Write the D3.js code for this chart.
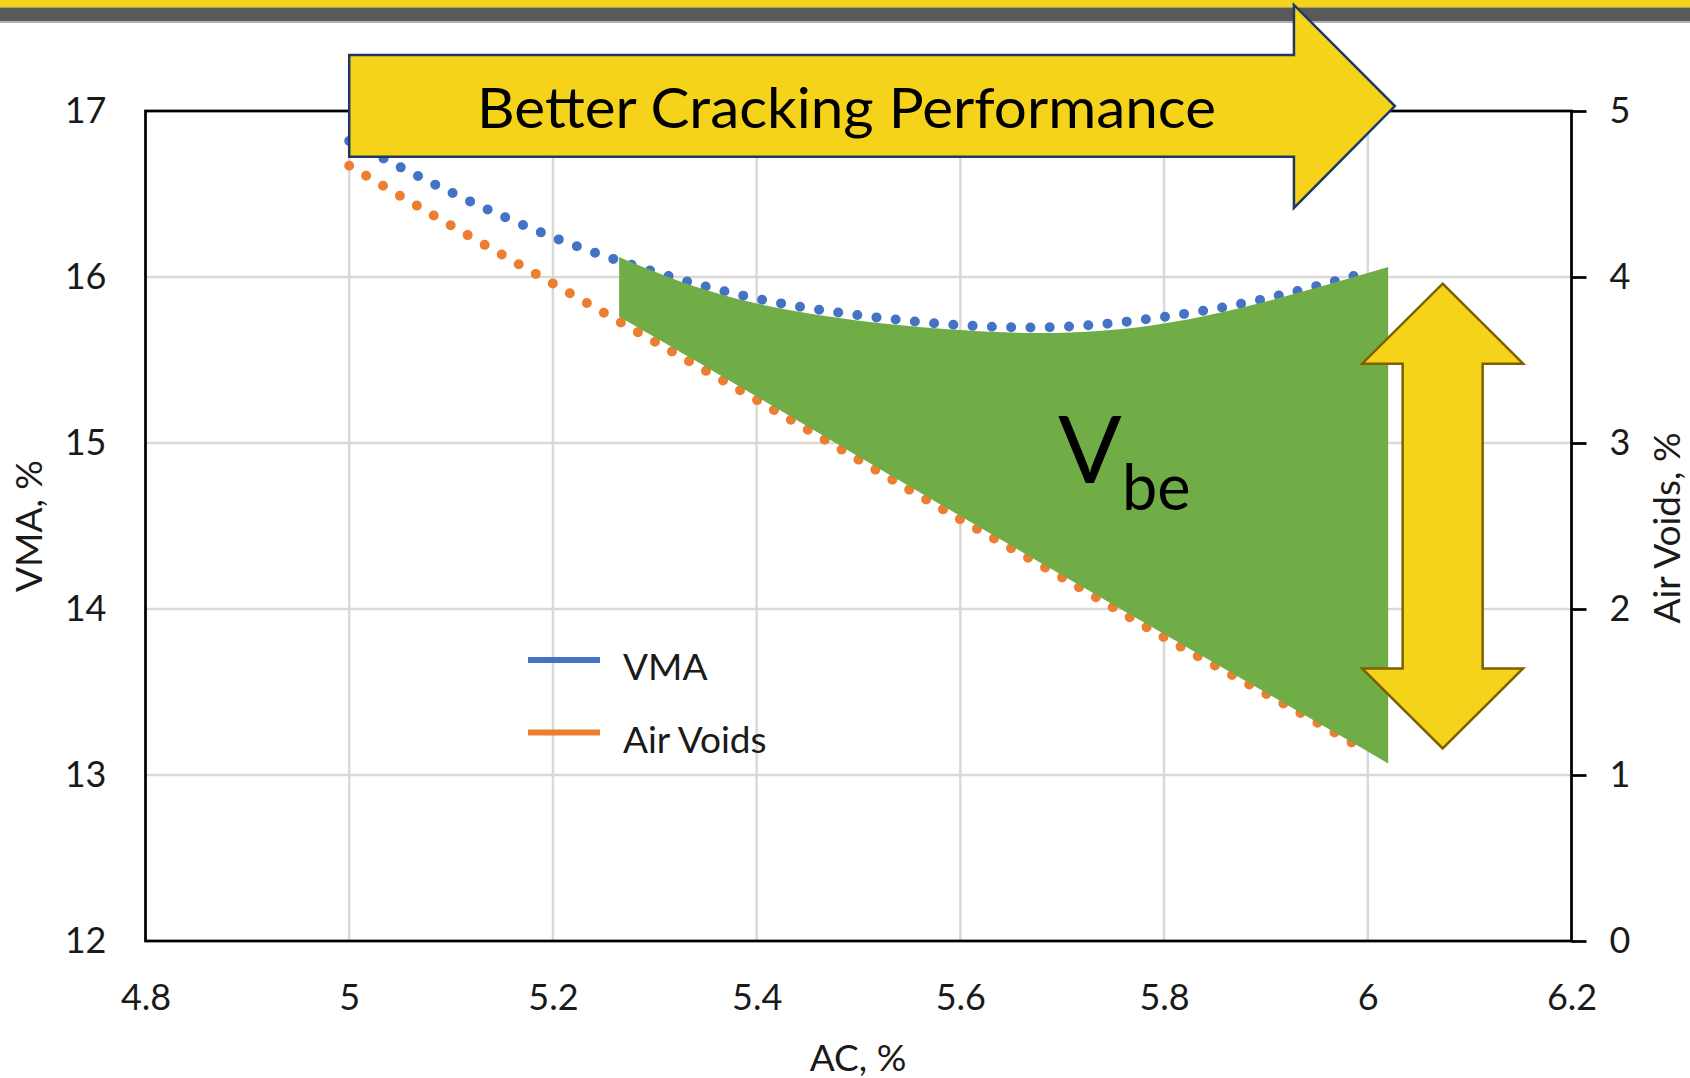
<!doctype html>
<html>
<head>
<meta charset="utf-8">
<title>VMA and Air Voids vs AC</title>
<script src="https://d3js.org/d3.v7.min.js"></script>
<style>
 body { margin: 0; background: #fff; }
 text { font-family: Lato, "Open Sans", sans-serif; }
</style>
</head>
<body>
<script>
// data
var acPct = [5.0, 5.1, 5.2, 5.3, 5.4, 5.5, 5.6, 5.7, 5.8, 5.9, 6.0];
var vma = [16.82, 16.51, 16.24, 16.03, 15.87, 15.77, 15.71, 15.70, 15.76, 15.87, 16.03];
var airVoids = [4.67, 4.31, 3.96, 3.61, 3.26, 2.90, 2.54, 2.19, 1.83, 1.49, 1.14];

var xTicks = [4.8, 5, 5.2, 5.4, 5.6, 5.8, 6, 6.2];
var xTickLabels = ["4.8", "5", "5.2", "5.4", "5.6", "5.8", "6", "6.2"];
var yLeftTicks = [12, 13, 14, 15, 16, 17];
var yRightTicks = [0, 1, 2, 3, 4, 5];

// green Vbe band (top edge in VMA %, bottom edge in air voids %)
var vbeAC = [5.265, 5.4, 5.6, 5.8, 6.02];
var vbeTop = [16.12, 15.84, 15.68, 15.72, 16.06];
var vbeBottom = [3.76, 3.28, 2.56, 1.85, 1.07];

var W = 1690, H = 1078;
var plotL = 145.5, plotR = 1571.5, plotT = 111, plotB = 941;

var svg = d3.select("body").append("svg")
    .attr("width", W)
    .attr("height", H);

var x = d3.scaleLinear().domain([4.8, 6.2]).range([plotL, plotR]);
var yL = d3.scaleLinear().domain([12, 17]).range([plotB, plotT]);
var yR = d3.scaleLinear().domain([0, 5]).range([plotB, plotT]);

// top band
svg.append("rect").attr("x", 0).attr("y", 0).attr("width", W).attr("height", 7.5).attr("fill", "#F5D31A");
svg.append("rect").attr("x", 0).attr("y", 7.5).attr("width", W).attr("height", 13.5).attr("fill", "#595959");
svg.append("rect").attr("x", 0).attr("y", 21).attr("width", W).attr("height", 2).attr("fill", "#b0b0b0");

// gridlines
svg.append("g").selectAll("line")
    .data(xTicks.slice(1, -1))
    .enter().append("line")
    .attr("x1", function(d) { return x(d); })
    .attr("x2", function(d) { return x(d); })
    .attr("y1", plotT).attr("y2", plotB)
    .attr("stroke", "#d9d9d9").attr("stroke-width", 2.5);

svg.append("g").selectAll("line")
    .data(yLeftTicks.slice(1, -1))
    .enter().append("line")
    .attr("x1", plotL).attr("x2", plotR)
    .attr("y1", function(d) { return yL(d); })
    .attr("y2", function(d) { return yL(d); })
    .attr("stroke", "#d9d9d9").attr("stroke-width", 2.5);

// series
var vmaLine = d3.line()
    .x(function(d, i) { return x(acPct[i]); })
    .y(function(d) { return yL(d); })
    .curve(d3.curveNatural);

var avLine = d3.line()
    .x(function(d, i) { return x(acPct[i]); })
    .y(function(d) { return yR(d); })
    .curve(d3.curveNatural);

svg.append("path")
    .attr("d", vmaLine(vma))
    .attr("fill", "none")
    .attr("stroke", "#4472C4")
    .attr("stroke-width", 10)
    .attr("stroke-linecap", "round")
    .attr("stroke-dasharray", "0 19.3");

svg.append("path")
    .attr("d", avLine(airVoids))
    .attr("fill", "none")
    .attr("stroke", "#ED7D31")
    .attr("stroke-width", 10)
    .attr("stroke-linecap", "round")
    .attr("stroke-dasharray", "0 19.6");

// green Vbe band
var vbeArea = d3.area()
    .x(function(d, i) { return x(vbeAC[i]); })
    .y0(function(d, i) { return yR(vbeBottom[i]); })
    .y1(function(d, i) { return yL(vbeTop[i]); })
    .curve(d3.curveNatural);

svg.append("path")
    .attr("d", vbeArea(vbeAC))
    .attr("fill", "#70AD47");

// legend
var legend = svg.append("g");
var legendItems = [
    { name: "VMA", color: "#4472C4", y: 660 },
    { name: "Air Voids", color: "#ED7D31", y: 732.5 }
];
legend.selectAll("line")
    .data(legendItems)
    .enter().append("line")
    .attr("x1", 528).attr("x2", 600)
    .attr("y1", function(d) { return d.y; })
    .attr("y2", function(d) { return d.y; })
    .attr("stroke", function(d) { return d.color; })
    .attr("stroke-width", 6);
legend.selectAll("text")
    .data(legendItems)
    .enter().append("text")
    .attr("x", 623)
    .attr("y", function(d) { return d.y + 20; })
    .attr("font-size", 37)
    .attr("fill", "#1a1a1a")
    .text(function(d) { return d.name; });

// axes
var xAxis = d3.axisBottom(x)
    .tickValues(xTicks)
    .tickFormat(function(d, i) { return xTickLabels[i]; })
    .tickSizeInner(0).tickSizeOuter(0).tickPadding(43);

var yLAxis = d3.axisLeft(yL)
    .tickValues(yLeftTicks)
    .tickFormat(d3.format("d"))
    .tickSizeInner(0).tickSizeOuter(0).tickPadding(39);

var yRAxis = d3.axisRight(yR)
    .tickValues(yRightTicks)
    .tickFormat(d3.format("d"))
    .tickSizeInner(15).tickSizeOuter(0).tickPadding(23);

function styleAxis(g) {
    g.select(".domain").remove();
    g.selectAll(".tick line").attr("stroke", "#000").attr("stroke-width", 2.75);
    g.selectAll(".tick text")
        .attr("font-family", "Lato, sans-serif")
        .attr("font-size", 36)
        .attr("fill", "#1a1a1a");
}

svg.append("g").attr("transform", "translate(0," + plotB + ")").call(xAxis).call(styleAxis);
svg.append("g").attr("transform", "translate(" + plotL + ",0)").call(yLAxis).call(styleAxis);
svg.append("g").attr("transform", "translate(" + plotR + ",0)").call(yRAxis).call(styleAxis);

// plot frame
svg.append("rect")
    .attr("x", plotL).attr("y", plotT)
    .attr("width", plotR - plotL).attr("height", plotB - plotT)
    .attr("fill", "none")
    .attr("stroke", "#000")
    .attr("stroke-width", 2.75);

// axis titles
svg.append("text")
    .attr("x", 858).attr("y", 1071)
    .attr("text-anchor", "middle")
    .attr("font-size", 37)
    .attr("fill", "#1a1a1a")
    .text("AC, %");

svg.append("text")
    .attr("transform", "translate(41.5,526) rotate(-90)")
    .attr("text-anchor", "middle")
    .attr("font-size", 37)
    .attr("fill", "#1a1a1a")
    .text("VMA, %");

svg.append("text")
    .attr("transform", "translate(1680,528) rotate(-90)")
    .attr("text-anchor", "middle")
    .attr("font-size", 37)
    .attr("fill", "#1a1a1a")
    .text("Air Voids, %");

// big "Better Cracking Performance" arrow
var bx0 = x(5.0), bNeck = x(5.9275), bTip = x(6.0266);
var bTop = yL(17.337), bBot = yL(16.725), hTop = yL(17.639), hBot = yL(16.416), tipY = yL(17.03);
svg.append("path")
    .attr("d", "M" + bx0 + "," + bTop + "L" + bNeck + "," + bTop + "L" + bNeck + "," + hTop +
        "L" + bTip + "," + tipY + "L" + bNeck + "," + hBot + "L" + bNeck + "," + bBot +
        "L" + bx0 + "," + bBot + "Z")
    .attr("fill", "#F5D31A")
    .attr("stroke", "#1F3864")
    .attr("stroke-width", 2.5)
    .attr("stroke-linejoin", "miter");

svg.append("text")
    .attr("x", 477).attr("y", 127.5)
    .attr("font-size", 57)
    .attr("fill", "#000")
    .attr("textLength", 739)
    .attr("lengthAdjust", "spacingAndGlyphs")
    .text("Better Cracking Performance");

// double-headed Vbe arrow
var cx = x(6.0735), yTopTip = yR(3.96), yBotTip = yR(1.16);
var hw = 80.5, sw = 40, hh = 80;
svg.append("path")
    .attr("d", "M" + cx + "," + yTopTip +
        "L" + (cx + hw) + "," + (yTopTip + hh) + "L" + (cx + sw) + "," + (yTopTip + hh) +
        "L" + (cx + sw) + "," + (yBotTip - hh) + "L" + (cx + hw) + "," + (yBotTip - hh) +
        "L" + cx + "," + yBotTip +
        "L" + (cx - hw) + "," + (yBotTip - hh) + "L" + (cx - sw) + "," + (yBotTip - hh) +
        "L" + (cx - sw) + "," + (yTopTip + hh) + "L" + (cx - hw) + "," + (yTopTip + hh) + "Z")
    .attr("fill", "#F5D31A")
    .attr("stroke", "#7F6000")
    .attr("stroke-width", 2.5);

// Vbe label
var vbe = svg.append("text").attr("fill", "#000");
vbe.append("tspan").attr("x", 1058).attr("y", 483).attr("font-size", 94).text("V");
vbe.append("tspan").attr("x", 1122).attr("y", 510).attr("font-size", 63).text("be");
</script>
</body>
</html>
